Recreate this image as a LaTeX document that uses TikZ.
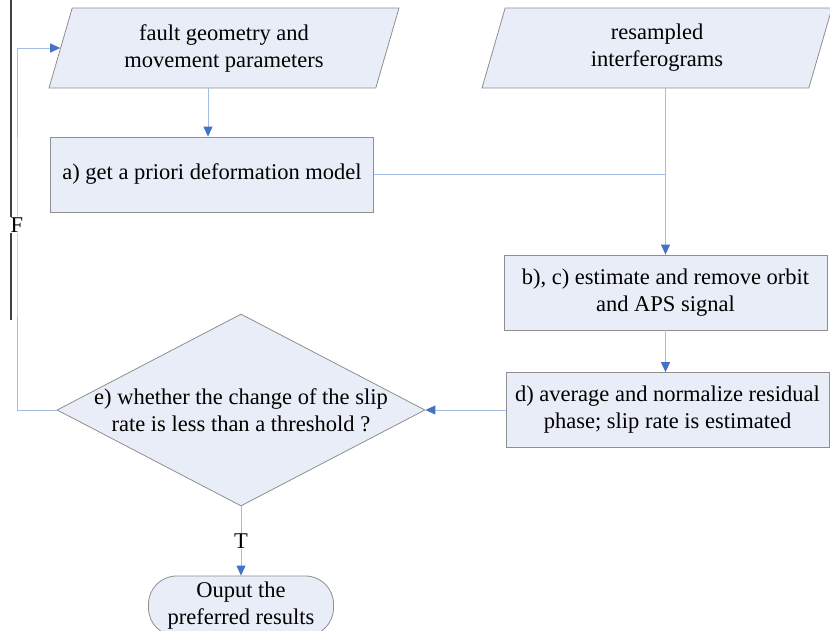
\documentclass[tikz,border=0pt]{standalone}
\usepackage{fontspec}
\setmainfont{Liberation Serif}
\usetikzlibrary{shapes.geometric,arrows.meta}
\definecolor{boxfill}{HTML}{E8EDF7}
\definecolor{boxline}{HTML}{8F8F8F}
\definecolor{flowline}{HTML}{A6BDE2}
\definecolor{flowtip}{HTML}{4472C4}

\begin{document}
\begin{tikzpicture}[x=1pt, y=-1pt, font=\fontsize{22.5}{27}\selectfont,
    >={Triangle[length=10pt,width=9pt,color=flowtip]},
    flow/.style={draw=flowline, line width=0.9pt},
    process/.style={rectangle, draw=boxline, fill=boxfill, line width=0.8pt, align=center, minimum width=323pt, minimum height=75pt, inner sep=0pt},
    data/.style={trapezium, trapezium left angle=64, trapezium right angle=116, trapezium stretches body, draw=boxline, fill=boxfill, line width=0.8pt, align=center, minimum width=350pt, minimum height=80pt, inner sep=0pt},
    decision/.style={diamond, draw=boxline, fill=boxfill, line width=0.8pt, minimum width=368pt, minimum height=192pt, inner sep=0pt},
    terminal/.style={rectangle, rounded corners=28pt, draw=boxline, fill=boxfill, line width=0.8pt, align=center, minimum width=185pt, minimum height=60pt, inner sep=0pt}]
    \useasboundingbox (0,0) rectangle (830,630);

    % left rule
    \draw[black!75, line width=1.3pt] (11,0) -- (11,320);

    \node[data] (p1) at (224,48) {fault geometry and\\movement parameters};
    \node[data] (p2) at (657,48) {resampled\\interferograms};
    \node[process] (a) at (212,174.5) {a) get a priori deformation model};
    \node[process] (b) at (665.5,292.5) {b), c) estimate and remove orbit\\and APS signal};
    \node[process] (d) at (667.5,410) {d) average and normalize residual\\phase; slip rate is estimated};
    \node[decision, label={[align=center]center:e) whether the change of the slip\\rate is less than a threshold ?}] (e) at (241,410) {};
    \node[terminal] (out) at (241,606) {Ouput the\\preferred results};

    \coordinate (join) at (b.north |- a.east);
    \coordinate (loop) at (17,225);

    \draw[flow,->] (p1.south -| 208,0) -- (a.north -| 208,0);
    \draw[flow,->] (p2.south -| b.north) -- (b.north);
    \draw[flow] (a.east) -- (join);
    \draw[flow,->] (b.south) -- (b.south |- d.north);
    \draw[flow,->] (d.west) -- (e.east);
    \draw[flow,->] (e.west) -| (loop) |- (p1.west);
    \draw[flow,->] (e.south) -- (out.north) node[midway, fill=white, inner sep=1pt] (tlabel) {T};
    \node[fill=white, inner sep=1pt] (flabel) at (loop) {F};
\end{tikzpicture}
\end{document}
